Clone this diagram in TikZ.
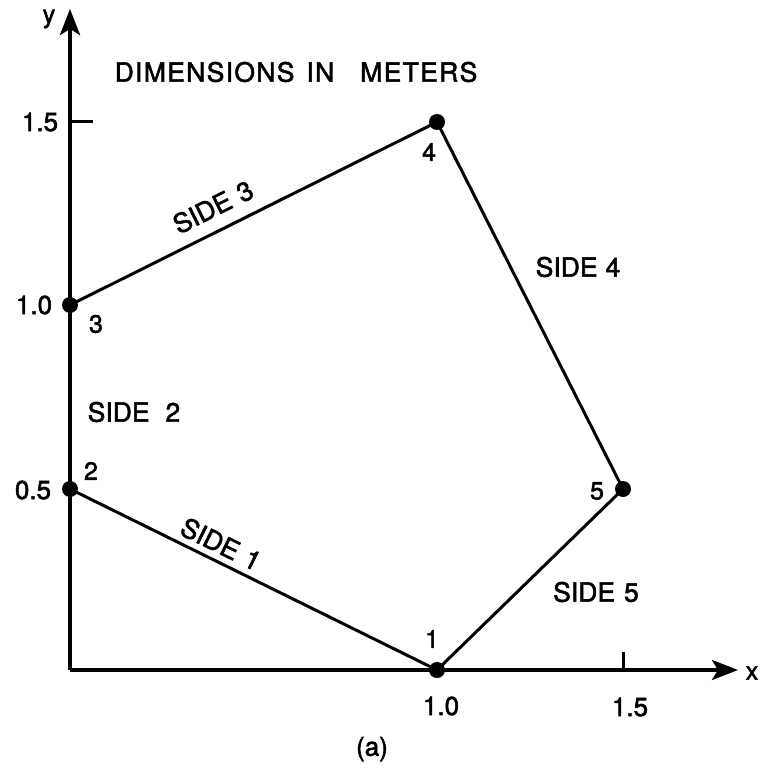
\documentclass[tikz,border=0pt]{standalone}
\usepackage{fontspec}
\setmainfont[FakeBold=2]{TeX Gyre Heros}
\newfontfamily\titlefont[LetterSpace=5,FakeBold=2]{TeX Gyre Heros}
\usetikzlibrary{arrows.meta}
\begin{document}
\begin{tikzpicture}[x=1pt,y=-1pt,
  axis/.style={line width=4pt,-{Stealth[length=26pt,width=20pt,inset=6pt]}},
  side/.style={line width=3pt},
  vtx/.style={circle,fill=black,inner sep=0pt,minimum size=16pt},
  lbl/.style={font=\fontsize{26.5}{26.5}\selectfont,inner sep=0pt},
  num/.style={font=\fontsize{26}{26}\selectfont,inner sep=0pt},
  pnum/.style={font=\fontsize{25}{25}\selectfont,inner sep=0pt}]
\useasboundingbox (0,0) rectangle (766,783);
\coordinate (O) at (70,670);
\coordinate (YT) at (70,9);
\coordinate (XT) at (738,670);
\node[vtx] (p1) at (437,670) {};
\node[vtx] (p2) at (70,489) {};
\node[vtx] (p3) at (70,305) {};
\node[vtx] (p4) at (437,122) {};
\node[vtx] (p5) at (623,489) {};
\draw[axis] (O) -- (YT);
\draw[axis] (O) -- (XT);
\coordinate (ty1) at (70,122); \coordinate (ty2) at (93,122);
\draw[line width=3pt] (ty1) -- (ty2);
\coordinate (tx1) at (623,670); \coordinate (tx2) at (623,652);
\draw[line width=3pt] (tx1) -- (tx2);
\draw[side,line join=round] (p1.center) -- (p2.center) -- (p3.center) -- (p4.center) -- (p5.center) -- cycle;
\node[pnum] (ly) at (49,19) {y};
\node[pnum] (lx) at (752,673) {x};
\node[num] (y15) at (40,122) {1.5};
\node[num] (y10) at (34,305) {1.0};
\node[num] (y05) at (33,490) {0.5};
\node[num] (x10) at (441,706) {1.0};
\node[num] (x15) at (630,707) {1.5};
\node[num] (cap) at (372,749) {(a)};
\node[lbl] (title) at (296,72) {\titlefont DIMENSIONS\hspace{12pt}IN\hspace{26pt}METERS};
\node[lbl,rotate=26.5] (s3) at (213,207) {SIDE\hspace{9pt}3};
\node[lbl,rotate=-26.2] (s1) at (221,544) {SIDE\hspace{9pt}1};
\node[lbl] (s2) at (134,412) {SIDE\hspace{16pt}2};
\node[lbl] (s4) at (578,267) {SIDE\hspace{8pt}4};
\node[lbl] (s5) at (596,592) {SIDE\hspace{9pt}5};
\node[pnum] (n1) at (432,639) {1};
\node[pnum] (n2) at (91,471) {2};
\node[pnum] (n3) at (96,324) {3};
\node[pnum] (n4) at (429,152) {4};
\node[pnum] (n5) at (597,491) {5};
\end{tikzpicture}
\end{document}
